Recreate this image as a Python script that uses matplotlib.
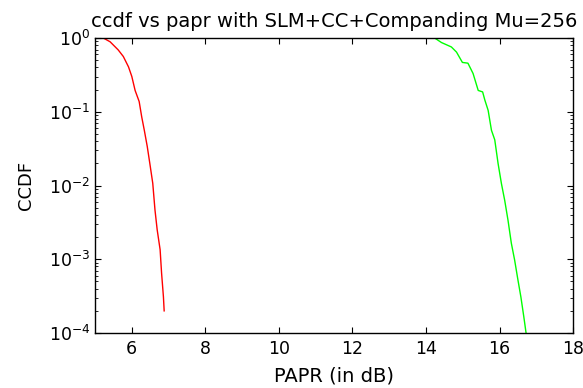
import matplotlib
matplotlib.use("Agg")
import matplotlib.pyplot as plt
import numpy as np

plt.rcParams['font.family'] = ['DejaVu Sans']
plt.rcParams['mathtext.fontset'] = 'dejavusans'

# Red curve: SLM+CC+Companding (Mu=256)
red_papr = [5.23, 5.41, 5.63, 5.77, 5.91, 6.00, 6.09, 6.20, 6.27, 6.34, 6.42,
            6.49, 6.57, 6.63, 6.69, 6.77, 6.81, 6.86, 6.88]
red_log_ccdf = [-0.00, -0.05, -0.16, -0.25, -0.39, -0.52, -0.71, -0.86, -1.07,
                -1.25, -1.47, -1.70, -1.97, -2.33, -2.60, -2.87, -3.19, -3.51, -3.70]

# Green curve
green_papr = [13.97, 14.24, 14.42, 14.69, 14.83, 14.99, 15.14, 15.28, 15.42,
              15.54, 15.60, 15.69, 15.78, 15.87, 15.96, 16.05, 16.14, 16.23,
              16.32, 16.41, 16.50, 16.58, 16.66, 16.71, 16.75]
green_log_ccdf = [0.00, 0.00, -0.06, -0.12, -0.19, -0.33, -0.34, -0.48, -0.71,
                  -0.73, -0.84, -0.98, -1.25, -1.38, -1.70, -1.97, -2.20, -2.47,
                  -2.78, -3.01, -3.28, -3.51, -3.78, -3.96, -4.10]

xticks = [6, 8, 10, 12, 14, 16, 18]

fig = plt.figure(figsize=(5.83, 3.88), dpi=100)
ax = fig.add_axes([0.163, 0.1418, 0.820, 0.760])

ax.semilogy(red_papr, 10 ** np.array(red_log_ccdf), color=(1, 0, 0), lw=1.0)
ax.semilogy(green_papr, 10 ** np.array(green_log_ccdf), color=(0, 1, 0), lw=1.0)

ax.set_xlim(5, 18)
ax.set_ylim(1e-4, 1)
ax.set_xticks(xticks)
ax.tick_params(axis='both', which='both', direction='in', top=True, right=True,
               labelsize=12.5, colors='black')
ax.tick_params(axis='x', which='major', pad=5)
ax.tick_params(which='major', length=4)
ax.tick_params(which='minor', length=2.5)
for s in ax.spines.values():
    s.set_linewidth(1.0)
    s.set_color('black')

ax.set_xlabel('PAPR (in dB)', fontsize=14, labelpad=6)
ax.set_ylabel('CCDF', fontsize=13, labelpad=10)
ax.set_title('ccdf vs papr with SLM+CC+Companding Mu=256', fontsize=14, pad=8)

fig.savefig('out.png', dpi=100)
